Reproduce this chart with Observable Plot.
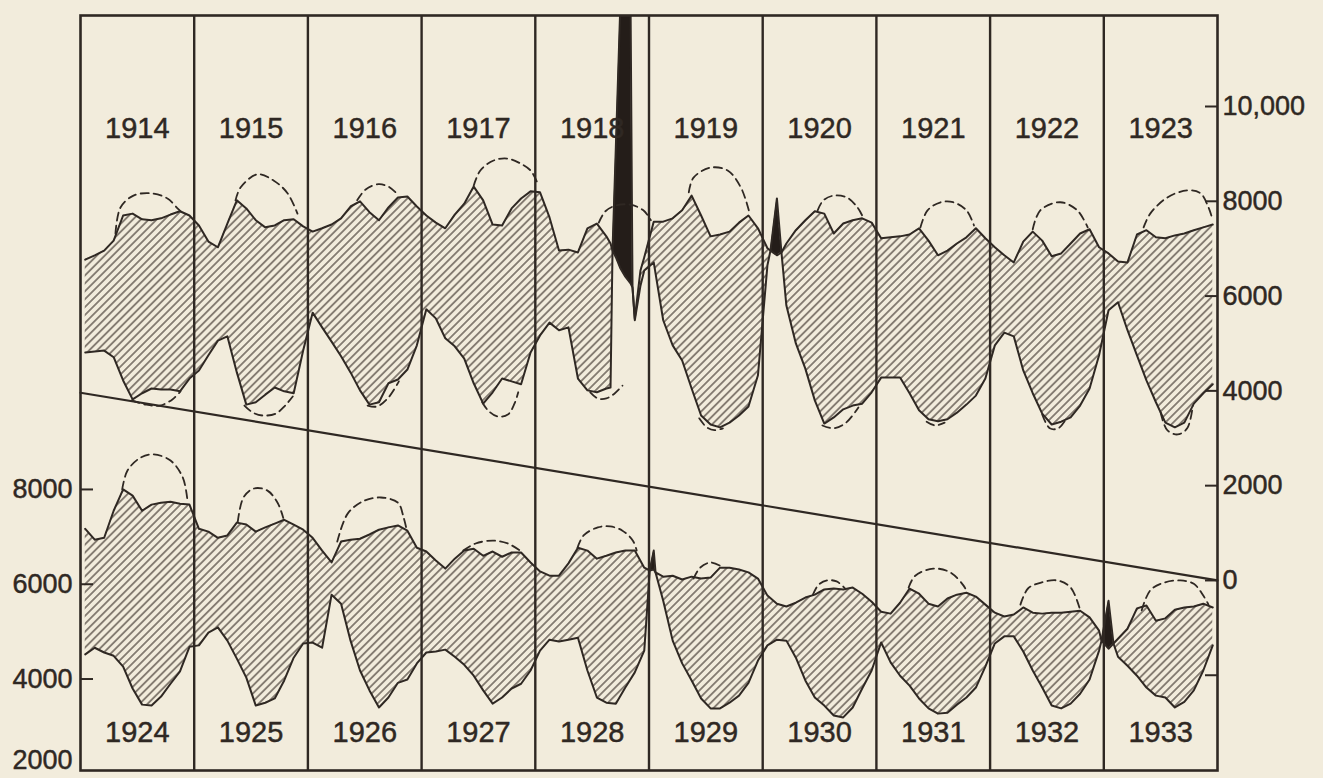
<!DOCTYPE html>
<html>
<head>
<meta charset="utf-8">
<script src="https://cdn.jsdelivr.net/npm/d3@7"></script>
<script src="https://cdn.jsdelivr.net/npm/@observablehq/plot@0.6"></script>
<style>
html, body { margin: 0; padding: 0; background: #f2ecdc; overflow: hidden; }
#chart svg { display: block; }
</style>
</head>
<body>
<div id="chart"></div>
<script>
// ---------------- DATA ----------------
const yearsTop = [1914, 1915, 1916, 1917, 1918, 1919, 1920, 1921, 1922, 1923];
const yearsBottom = [1924, 1925, 1926, 1927, 1928, 1929, 1930, 1931, 1932, 1933];

// monthly values, upper boundary (top panel, right-hand scale)
const upperTop = [
  [6770, 6860, 6960, 7170, 7700, 7740, 7620, 7600, 7640, 7720, 7790, 7700],
  [7490, 7150, 7030, 7530, 8020, 7850, 7600, 7450, 7490, 7600, 7620, 7470],
  [7360, 7430, 7510, 7640, 7890, 8000, 7770, 7600, 7870, 8080, 8100, 7890],
  [7700, 7550, 7430, 7720, 7950, 8310, 8020, 7510, 7490, 7850, 8060, 8210],
  [8190, 7660, 6960, 6980, 6920, 7430, 7530, 7260, 6820, 6410, 5530, 6820],
  [7570, 7570, 7640, 7810, 8120, 7700, 7260, 7300, 7360, 7550, 7700, 7430],
  [7010, 6860, 7110, 7390, 7600, 7790, 7740, 7320, 7530, 7600, 7640, 7550],
  [7220, 7240, 7260, 7300, 7430, 7170, 6860, 6960, 7110, 7240, 7430, 7220],
  [7030, 6860, 6710, 7150, 7360, 7170, 6840, 6900, 7110, 7320, 7410, 7030],
  [6900, 6730, 6710, 7300, 7390, 7240, 7220, 7280, 7320, 7390, 7450, 7510]
];
// monthly values, lower boundary (top panel)
const lowerTop = [
  [4810, 4830, 4850, 4710, 4220, 3820, 3950, 4050, 4030, 4030, 3990, 4260],
  [4430, 4750, 5060, 5150, 4390, 3710, 3760, 3920, 4070, 3990, 3950, 4850],
  [5650, 5340, 5040, 4730, 4390, 4010, 3710, 3760, 4160, 4240, 4450, 4960],
  [5720, 5530, 5110, 4940, 4680, 4160, 3730, 3970, 4260, 4200, 4140, 4810],
  [5170, 5440, 5280, 5340, 4260, 4010, 3970, 4050, 9140, 20470, 5490, 6540],
  [6710, 5490, 4960, 4640, 4050, 3480, 3290, 3230, 3330, 3480, 3670, 4330],
  [6650, 8060, 5800, 5000, 4470, 3800, 3310, 3440, 3610, 3690, 3730, 3970],
  [4280, 4280, 4280, 3950, 3590, 3400, 3360, 3400, 3540, 3710, 3900, 4260],
  [4960, 5230, 5150, 4430, 3950, 3520, 3290, 3350, 3440, 3690, 4050, 4750],
  [5700, 5870, 5280, 4750, 4220, 3760, 3330, 3230, 3330, 3730, 3950, 4140]
];
// extra readings around the epidemic spikes: [month index, upper, lower]
const spikesTop = [
  [55.94, 7110, 4070], [56.15, 6960, 6960], [56.99, 6580, 12240],
  [58.05, 6270, 12240], [58.26, 6180, 6180], [59.1, 6540, 6220],
  [72.82, 6960, 6960], [73.98, 6920, 6920]
];

// bottom panel (left-hand scale)
const upperBottom = [
  [7170, 6940, 6980, 7550, 8000, 7870, 7550, 7680, 7720, 7740, 7700, 7680],
  [7170, 7110, 6980, 7030, 7300, 7260, 7110, 7200, 7280, 7360, 7260, 7150],
  [6980, 6710, 6460, 6900, 6940, 6960, 7050, 7150, 7200, 7240, 7130, 6770],
  [6690, 6500, 6330, 6540, 6710, 6750, 6600, 6690, 6580, 6670, 6670, 6460],
  [6270, 6180, 6180, 6440, 6770, 6710, 6540, 6600, 6670, 6710, 6710, 6350],
  [6310, 6160, 6180, 6100, 6160, 6120, 6140, 6350, 6350, 6310, 6250, 6120],
  [5760, 5590, 5530, 5610, 5720, 5780, 5890, 5910, 5890, 5930, 5800, 5630],
  [5420, 5380, 5610, 5910, 5800, 5590, 5530, 5700, 5780, 5820, 5740, 5570],
  [5400, 5320, 5360, 5510, 5400, 5380, 5400, 5400, 5420, 5440, 5300, 5020],
  [4640, 4850, 5060, 5490, 5550, 5230, 5280, 5460, 5510, 5530, 5590, 5510]
];
const lowerBottom = [
  [4520, 4660, 4560, 4490, 4260, 3800, 3460, 3440, 3630, 3900, 4160, 4680],
  [4710, 4980, 5090, 4810, 4430, 4030, 3440, 3500, 3590, 3970, 4450, 4750],
  [4770, 4660, 5780, 5590, 4810, 4180, 3760, 3400, 3610, 3920, 3990, 4330],
  [4560, 4580, 4620, 4470, 4300, 4070, 3760, 3480, 3610, 3800, 3900, 4180],
  [4600, 4830, 4790, 4830, 4870, 4180, 3610, 3500, 3480, 3820, 4140, 4600],
  [6710, 5650, 4810, 4330, 3970, 3590, 3380, 3380, 3500, 3650, 3920, 4390],
  [4710, 4830, 4810, 4450, 3970, 3610, 3440, 3230, 3190, 3400, 3800, 4180],
  [4770, 4350, 4070, 3860, 3590, 3380, 3270, 3290, 3460, 3610, 3820, 4260],
  [4750, 4900, 4900, 4580, 4180, 3820, 3440, 3380, 3480, 3690, 3990, 4600],
  [5650, 4470, 4280, 4070, 3820, 3650, 3610, 3400, 3520, 3760, 4180, 4710]
];
const spikesBottom = [
  [60.08, 6290, 6290], [60.69, 6250, 6250],
  [107.76, 4810, 4810], [109.02, 4750, 4750]
];

// dashed "normal" curves: [month index, value]
const normalTopUpper = [
  [[3.69, 7320], [4.22, 7870], [5.59, 8120], [7.39, 8170], [9.18, 8060], [10.24, 7850], [10.55, 7790]],
  [[16.36, 8020], [16.89, 8290], [18.68, 8570], [20.37, 8440], [21.85, 8170], [22.9, 7740]],
  [[29.2, 8020], [30.1, 8250], [31.45, 8360], [32.5, 8310], [33.35, 8170]],
  [[41.5, 8330], [42.2, 8650], [43.6, 8860], [45.1, 8900], [46.4, 8800], [47.5, 8650], [48.2, 8400]],
  [[54.7, 7550], [55.4, 7790], [56.5, 7910], [58.0, 7930], [59.4, 7810], [60.2, 7600]],
  [[64.2, 8190], [64.7, 8500], [66.5, 8710], [68.3, 8650], [69.7, 8290], [70.6, 7760]],
  [[77.8, 7810], [78.4, 8020], [79.5, 8120], [80.9, 8080], [82.0, 7870], [82.6, 7660]],
  [[88.65, 7450], [89.4, 7810], [90.8, 7980], [92.1, 7980], [93.5, 7810], [94.3, 7490]],
  [[100.5, 7410], [101.3, 7810], [103.4, 7980], [105.2, 7810], [106.3, 7450]],
  [[112.2, 7450], [112.9, 7740], [114.7, 8080], [116.8, 8230], [118.2, 8170], [119.05, 7870], [119.5, 7600]]
];
const normalTopLower = [
  [[5.4, 3800], [6.9, 3710], [8.4, 3690], [9.7, 3820], [10.55, 3990]],
  [[17.3, 3690], [18.2, 3540], [19.2, 3480], [20.6, 3520], [21.6, 3690], [22.4, 3880]],
  [[30.3, 3690], [31.3, 3670], [32.5, 3860], [33.6, 4200]],
  [[42.4, 3760], [43.0, 3590], [44.0, 3460], [45.1, 3500], [45.8, 3730], [46.2, 3970]],
  [[53.8, 3970], [54.6, 3840], [55.5, 3840], [56.4, 3950], [57.2, 4110]],
  [[65.3, 3420], [66.1, 3230], [66.9, 3170], [67.8, 3210]],
  [[78.3, 3270], [79.5, 3210], [80.8, 3330], [82.1, 3650]],
  [[89.3, 3350], [90.2, 3270], [91.2, 3330]],
  [[101.5, 3500], [102.3, 3210], [103.2, 3210], [104.0, 3400]],
  [[114.0, 3540], [114.7, 3170], [115.8, 3080], [116.8, 3210], [117.4, 3690]]
];
const normalBottomUpper = [
  [[4.4, 8000], [4.96, 8400], [6.33, 8670], [7.7, 8740], [9.5, 8610], [10.8, 8250], [11.3, 7750]],
  [[16.6, 7320], [17.2, 7830], [18.3, 8020], [19.7, 7980], [20.8, 7720], [21.4, 7400]],
  [[27.1, 6900], [28.2, 7490], [29.9, 7760], [31.7, 7830], [33.5, 7720], [34.1, 7410], [34.4, 7170]],
  [[40.4, 6710], [41.7, 6860], [43.6, 6920], [45.1, 6860], [46.4, 6710]],
  [[52.45, 6770], [53.1, 7030], [54.6, 7200], [55.9, 7220], [57.2, 7130], [58.3, 6920], [58.7, 6710]],
  [[64.7, 6120], [65.4, 6350], [66.5, 6460], [67.5, 6390]],
  [[77.3, 5780], [77.9, 5990], [78.8, 6080], [79.8, 6060], [80.7, 5910]],
  [[87.4, 5930], [88.1, 6180], [90.0, 6330], [91.8, 6250], [93.2, 5970], [93.6, 5820]],
  [[99.2, 5570], [100.0, 5910], [101.3, 6030], [103.1, 6080], [104.5, 5930], [105.5, 5460]],
  [[112.0, 5450], [112.9, 5870], [114.3, 6030], [116.1, 6080], [117.5, 6010], [118.5, 5760], [119.05, 5570]]
];

// straight reference line across the chart (right-hand scale)
const trendLine = [[0, 3960], [120, 0]];

// axes
const rightTickValues = [-2000, 0, 2000, 4000, 6000, 8000, 10000];
const rightLabelValues = [0, 2000, 4000, 6000, 8000, 10000];
const leftTickValues = [4000, 6000, 8000];
const leftLabelValues = [4000, 6000, 8000];
const leftBottomLabel = [2000];

// the lower panel is stacked below the upper one on the same pixel scale
const OFFSET = 6080;

// ---------------- BUILD TABLES ----------------
function buildRows(upper, lower, extras, off) {
  const rows = [];
  upper.forEach((yr, i) => yr.forEach((a, m) => {
    rows.push({t: i * 12 + m + 0.5, a: a - off, b: lower[i][m] - off});
  }));
  extras.forEach(([t, a, b]) => rows.push({t, a: a - off, b: b - off}));
  rows.sort((p, q) => p.t - q.t);
  return rows;
}
const topRows = buildRows(upperTop, lowerTop, spikesTop, 0);
const bottomRows = buildRows(upperBottom, lowerBottom, spikesBottom, OFFSET);

function arcRows(arcs, off, tag) {
  return arcs.flatMap((arc, k) => arc.map(([t, v]) => ({t, v: v - off, id: tag + k})));
}
const dashed = [
  ...arcRows(normalTopUpper, 0, "tu"),
  ...arcRows(normalTopLower, 0, "tl"),
  ...arcRows(normalBottomUpper, OFFSET, "bu")
];

const ink = "#2f2823";
const fontFamily = "'Liberation Sans', Arial, 'DejaVu Sans', sans-serif";
const textStyle = {fill: ink, stroke: ink, strokeWidth: 0.45};

function panelMarks(rows) {
  return [
    Plot.areaY(rows, {x: "t", y1: "b", y2: d => Math.max(d.a, d.b), fill: "url(#hatch)", clip: true}),
    Plot.areaY(rows, {x: "t", y1: "a", y2: d => Math.max(d.a, d.b), fill: "#241d19", clip: true}),
    Plot.line(rows, {x: "t", y: "a", stroke: ink, strokeWidth: 2, clip: true}),
    Plot.line(rows, {x: "t", y: "b", stroke: ink, strokeWidth: 2, clip: true})
  ];
}

const chart = Plot.plot({
  width: 1323,
  height: 778,
  marginLeft: 80,
  marginRight: 106,
  marginTop: 15,
  marginBottom: 8,
  x: {domain: [0, 120], axis: null},
  y: {domain: [-4010, 11920]},
  style: {background: "#f2ecdc", color: ink, fontFamily: fontFamily, fontSize: "27px"},
  marks: [
    ...panelMarks(topRows),
    ...panelMarks(bottomRows),
    Plot.line(dashed, {x: "t", y: "v", z: "id", stroke: ink, strokeWidth: 1.8,
      strokeDasharray: "8,5", curve: "catmull-rom", clip: true}),
    Plot.line(trendLine, {x: d => d[0], y: d => d[1], stroke: ink, strokeWidth: 2.2}),
    Plot.ruleX(d3.range(1, 10).map(i => i * 12), {stroke: ink, strokeWidth: 2.4}),
    Plot.frame({stroke: ink, strokeWidth: 2.6}),
    Plot.axisY(rightTickValues, {anchor: "right", tickSize: -13, fill: "none", stroke: ink, strokeWidth: 2, label: null}),
    Plot.axisY(leftTickValues.map(v => v - OFFSET), {anchor: "left", tickSize: -13, fill: "none", stroke: ink, strokeWidth: 2, label: null}),
    Plot.text(rightLabelValues, {y: d => d, frameAnchor: "right", textAnchor: "start", dx: 5,
      text: d => d === 10000 ? "10,000" : String(d), fontSize: 27, ...textStyle}),
    Plot.text(leftLabelValues, {y: d => d - OFFSET, frameAnchor: "left", textAnchor: "end", dx: -8,
      text: d => String(d), fontSize: 27, ...textStyle}),
    Plot.text(leftBottomLabel, {y: d => d - OFFSET, frameAnchor: "left", textAnchor: "end", dx: -8,
      lineAnchor: "bottom", dy: -5, text: d => String(d), fontSize: 27, ...textStyle}),
    Plot.text(yearsTop, {x: (d, i) => i * 12 + 6, frameAnchor: "top", dy: 102,
      text: d => String(d), fontSize: 29, ...textStyle}),
    Plot.text(yearsBottom, {x: (d, i) => i * 12 + 6, frameAnchor: "bottom", dy: -29,
      text: d => String(d), fontSize: 29, ...textStyle})
  ]
});

// hatch pattern
const defs = d3.select(chart).insert("defs", ":first-child");
const pat = defs.append("pattern")
  .attr("id", "hatch")
  .attr("patternUnits", "userSpaceOnUse")
  .attr("width", 5.6).attr("height", 5.6)
  .attr("patternTransform", "rotate(45)");
pat.append("line")
  .attr("x1", 2.8).attr("y1", -1).attr("x2", 2.8).attr("y2", 6.6)
  .attr("stroke", "#3f352e").attr("stroke-width", 1.15);

document.getElementById("chart").appendChild(chart);
</script>
</body>
</html>
